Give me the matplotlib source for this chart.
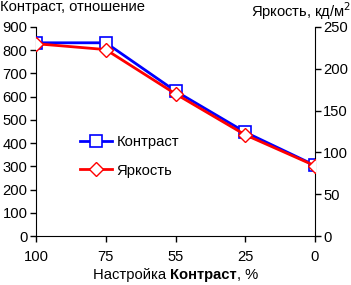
import matplotlib
matplotlib.use("Agg")
import matplotlib.pyplot as plt
from matplotlib.offsetbox import TextArea, HPacker, AnchoredOffsetbox

plt.rcParams['font.family'] = ['Liberation Sans', 'DejaVu Sans']

categories = ["100", "75", "55", "25", "0"]
contrast = [832, 832, 624, 447, 304]
brightness = [230, 223, 170, 121, 84]

fig = plt.figure(figsize=(3.51, 2.85), dpi=100)
ax = fig.add_axes([36/351, 49/285, 279/351, 209/285])
ax2 = ax.twinx()

x = list(range(len(categories)))
fs = 10.6
l1, = ax.plot(x, contrast, color='#0000ff', lw=2, marker='s', ms=8,
              mfc='white', mec='#0000ff', mew=1.2, label='Контраст', zorder=3)
l2, = ax2.plot(x, brightness, color='#ff0000', lw=2, marker='D', ms=7,
               mfc='white', mec='#ff0000', mew=1.0, label='Яркость', zorder=4)

ax.set_xlim(0, 4)
ax.set_ylim(0, 900)
ax2.set_ylim(0, 250)
ax.set_yticks(range(0, 901, 100))
ax2.set_yticks(range(0, 251, 50))
ax.set_xticks(x)
ax.set_xticklabels(categories)

for a in (ax, ax2):
    for s in a.spines.values():
        s.set_visible(False)
    a.tick_params(labelsize=fs, length=4, width=1, direction='out', colors='black', pad=2)
ax.spines['left'].set_visible(True)
ax.spines['bottom'].set_visible(True)
ax2.spines['right'].set_visible(True)
ax.tick_params(axis='x', pad=6)

fig.text(0.0, 1.0, "Контраст, отношение", ha='left', va='top', fontsize=fs)
fig.text(1.0, 1.0, "Яркость, кд/м$^2$", ha='right', va='top', fontsize=fs)

parts = HPacker(children=[
    TextArea("Настройка ", textprops=dict(fontsize=fs)),
    TextArea("Контраст", textprops=dict(fontsize=fs, fontweight='bold')),
    TextArea(", %", textprops=dict(fontsize=fs)),
], align='baseline', pad=0, sep=0)
ab = AnchoredOffsetbox(loc='center', child=parts, frameon=False,
                       bbox_to_anchor=(0.5, 0.035), bbox_transform=fig.transFigure, pad=0, borderpad=0)
fig.add_artist(ab)

leg = ax2.legend([l1, l2], ['Контраст', 'Яркость'], loc='upper left',
                 bbox_to_anchor=(0.11, 0.547), frameon=False, fontsize=fs,
                 handlelength=2.2, labelspacing=1.0, handletextpad=0.3)

fig.savefig("out.png", dpi=100)
